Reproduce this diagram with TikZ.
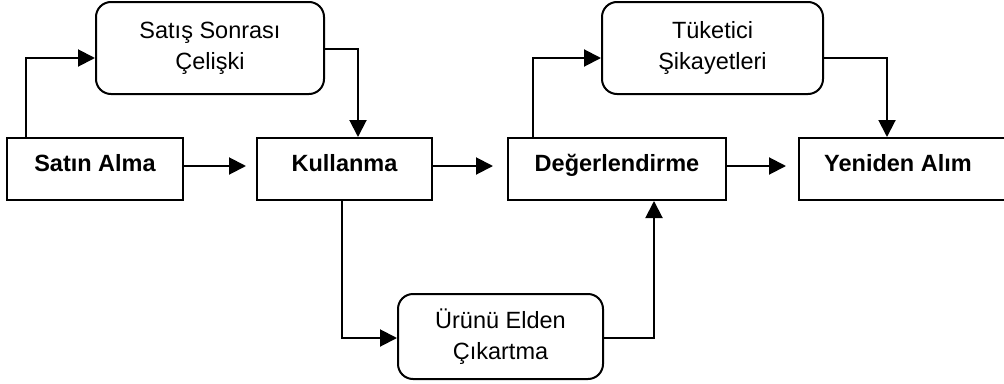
\documentclass[tikz,border=0pt]{standalone}
\usepackage{fontspec}
\setmainfont{Liberation Sans}
\usetikzlibrary{arrows.meta}
\begin{document}
\begin{tikzpicture}[x=1pt,y=-1pt,
  mainbox/.style={draw, line width=2pt, inner sep=0pt, minimum height=62pt,
    text height=33pt, text depth=29pt, font=\fontsize{23.5}{31}\selectfont\bfseries},
  softbox/.style={draw, line width=2pt, rounded corners=15pt, inner sep=0pt,
    align=center, font=\fontsize{23.5}{31}\selectfont},
  arr/.style={line width=2pt, -{Triangle[length=17pt,width=17pt]}}]
\useasboundingbox (0,0) rectangle (1004,383);
\node[mainbox, minimum width=176pt] (sa) at (95,169) {Satın Alma};
\node[mainbox, minimum width=175pt] (ku) at (344.5,169) {Kullanma};
\node[mainbox, minimum width=218pt] (de) at (617,169) {Değerlendirme};
\node[mainbox, minimum width=220pt] (ye) at (909,169) {\hspace*{-22pt}Yeniden Alım};
\node[softbox, minimum width=228pt, minimum height=92pt] (ss) at (210,48) {Satış Sonrası\\Çelişki};
\node[softbox, minimum width=221pt, minimum height=92pt] (tu) at (712.5,48) {Tüketici\\Şikayetleri};
\node[softbox, minimum width=205pt, minimum height=85pt] (ur) at (500.5,336.5) {Ürünü Elden\\Çıkartma};
\draw[arr] ([xshift=-69pt]sa.north) |- ([yshift=-10pt]ss.west);
\draw[arr] ([yshift=-1pt]ss.east) -| ([xshift=13.5pt]ku.north);
\draw[arr] ([yshift=3pt]sa.east) -- ([yshift=3pt,xshift=-10pt]ku.west);
\draw[arr] ([yshift=3pt]ku.east) -- ([yshift=3pt,xshift=-14pt]de.west);
\draw[arr] ([yshift=3pt]de.east) -- ([yshift=3pt,xshift=-12pt]ye.west);
\draw[arr] ([xshift=-84pt]de.north) |- ([yshift=-10pt]tu.west);
\draw[arr] ([yshift=-10pt]tu.east) -| ([xshift=-22pt]ye.north);
\draw[arr] ([xshift=-2.5pt]ku.south) |- ([yshift=-1.5pt]ur.west);
\draw[arr] ([yshift=-1.5pt]ur.east) -| ([xshift=37pt]de.south);
\end{tikzpicture}
\end{document}
